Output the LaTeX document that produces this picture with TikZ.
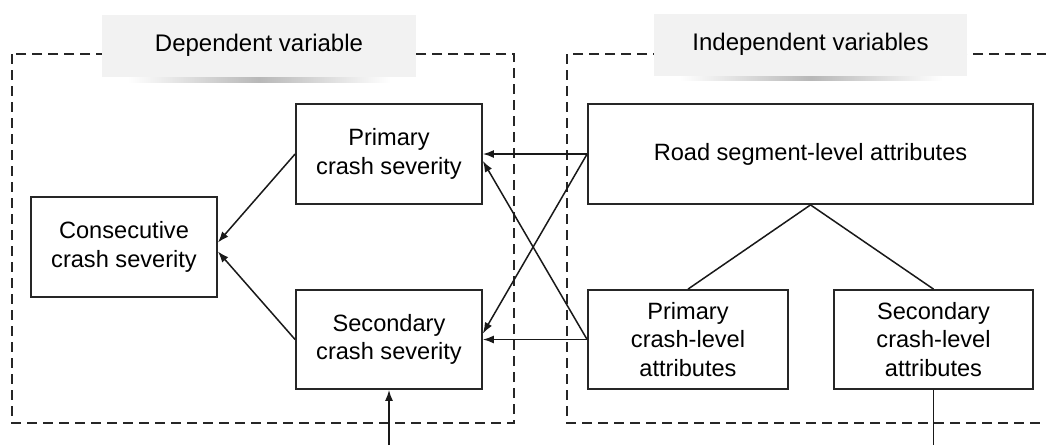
\documentclass[tikz,border=0pt]{standalone}
\usepackage{fontspec}
\setmainfont{Liberation Sans}
\usetikzlibrary{arrows.meta,calc}
\begin{document}
\begin{tikzpicture}[x=1pt,y=-1pt,
  region/.style={draw=black!85, line width=1.7pt, dash pattern=on 10pt off 6pt},
  box/.style={draw=black!85, line width=1.8pt, inner sep=0pt, align=center,
    font=\fontsize{23.6}{28.5}\selectfont},
  header/.style={fill=black!5, inner sep=0pt, minimum height=62pt,
    font=\fontsize{24}{28}\selectfont},
  link/.style={draw=black!90, line width=1.5pt},
  arr/.style={link, -{Latex[length=11pt,width=8pt]}}]
\clip (0,0) rectangle (1046,445);
\fill[white] (0,0) rectangle (1046,445);
% regions
\draw[region] (12,54) rectangle (514,423);
\draw[region] (567,54) rectangle (1070,423);
% header shadows
\shade[left color=white, right color=white, middle color=black!28] (128,76) rectangle (390,82);
\shade[left color=white, right color=white, middle color=black!28] (680,74) rectangle (942,80);
\node[header, minimum width=314pt] (hd) at (259,45.5) {Dependent variable};
\node[header, minimum width=313pt] (hi) at (810.5,44.5) {Independent variables};
% boxes
\node[box, minimum width=186pt, minimum height=100pt] (cs) at (124,247) {Consecutive\\crash severity};
\node[box, minimum width=186pt, minimum height=100pt] (ps) at (389,154) {Primary\\crash severity};
\node[box, minimum width=186pt, minimum height=99pt] (ss) at (389,339.5) {Secondary\\crash severity};
\node[box, minimum width=445pt, minimum height=100pt] (rd) at (810.5,154) {Road segment-level attributes};
\node[box, minimum width=200pt, minimum height=99pt] (pc) at (688,339.5) {Primary\\crash-level\\attributes};
\node[box, minimum width=199pt, minimum height=99pt] (sc) at (933.5,339.5) {Secondary\\crash-level\\attributes};
% connectors
\draw[arr] (rd.west) -- (ps.east);
\draw[arr] (pc.west) -- (ss.east);
\draw[arr] (rd.west) -- ($(ss.east)+(0,-6)$);
\draw[arr] (pc.west) -- ($(ps.east)+(0,7)$);
\draw[arr] (ps.west) -- ($(cs.east)+(0,-4.5)$);
\draw[arr] (ss.west) -- ($(cs.east)+(0,4.5)$);
\draw[link] (rd.south) -- (pc.north);
\draw[link] (rd.south) -- (sc.north);
\coordinate (b1) at (389,445);
\coordinate (b2) at (933.5,445);
\draw[arr] (b1) -- (ss.south);
\draw[link] (sc.south) -- (b2);
\end{tikzpicture}
\end{document}
